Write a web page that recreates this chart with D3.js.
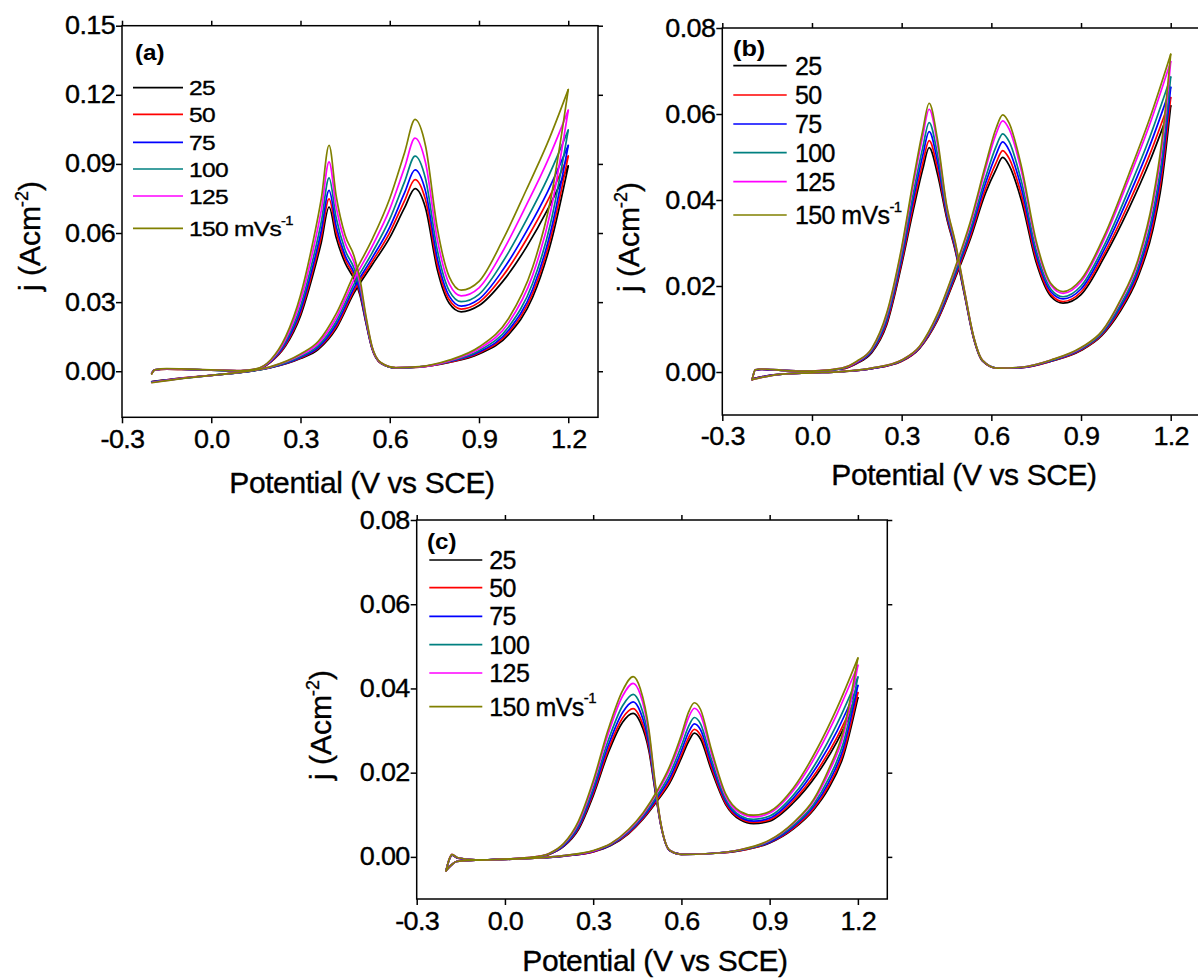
<!DOCTYPE html>
<html><head><meta charset="utf-8">
<script src="https://cdn.jsdelivr.net/npm/d3@7"></script>
<style>body{margin:0;background:#fff} text{font-family:"Liberation Sans",Arial,sans-serif}</style>
</head><body><svg id="chart" width="1198" height="978"></svg>
<script>
const rates = ["25", "50", "75", "100", "125", "150"];
const colors = ["#000000", "#FF0000", "#0000FF", "#008080", "#FF00FF", "#808000"];
const xTicks = [-0.3, 0, 0.3, 0.6, 0.9, 1.2];
const xTickLabels = ["-0.3", "0.0", "0.3", "0.6", "0.9", "1.2"];
const aYTicks = [0, 0.03, 0.06, 0.09, 0.12, 0.15];
const aYTickLabels = ["0.00", "0.03", "0.06", "0.09", "0.12", "0.15"];
const bcYTicks = [0, 0.02, 0.04, 0.06, 0.08];
const bcYTickLabels = ["0.00", "0.02", "0.04", "0.06", "0.08"];

// ---- panel (a) ----
const aFwdV = [-0.2,-0.1,0.0,0.1,0.2,0.3,0.36,0.42,0.48,0.54,0.6,0.65,0.685,0.72,0.76,0.8,0.84,0.9,0.98,1.06,1.13,1.2];
const aFwd = [
 [-0.0045,-0.003,-0.0018,-0.0005,0.0015,0.0055,0.0095,0.0185,0.034,0.046,0.058,0.071,0.0793,0.071,0.044,0.0295,0.0258,0.0285,0.039,0.054,0.070,0.0891],
 [-0.0046,-0.003,-0.0018,-0.0005,0.0016,0.0058,0.0100,0.0193,0.035,0.0474,0.0602,0.0741,0.0832,0.0745,0.0463,0.031,0.027,0.0299,0.0413,0.0573,0.0738,0.0934],
 [-0.0046,-0.0031,-0.0018,-0.0005,0.0016,0.0060,0.0104,0.0203,0.0362,0.0490,0.0626,0.0775,0.0874,0.0783,0.0489,0.0326,0.0283,0.0313,0.0439,0.0608,0.0778,0.098],
 [-0.0047,-0.0031,-0.0018,-0.0005,0.0017,0.0064,0.0111,0.0216,0.0378,0.0512,0.066,0.0823,0.0934,0.0837,0.0525,0.0349,0.0302,0.0334,0.0475,0.0658,0.0836,0.1047],
 [-0.0049,-0.0031,-0.0018,-0.0004,0.0019,0.007,0.0121,0.0232,0.0398,0.054,0.0704,0.0885,0.1012,0.0907,0.0571,0.0379,0.0327,0.0362,0.0521,0.0723,0.0912,0.1133],
 [-0.005,-0.0032,-0.0018,-0.0004,0.002,0.0075,0.013,0.025,0.042,0.057,0.075,0.095,0.1093,0.098,0.062,0.041,0.0352,0.039,0.057,0.079,0.099,0.1223]
];
const aRevV = [-0.2,-0.19,-0.15,-0.1,0.0,0.1,0.15,0.2,0.25,0.3,0.34,0.37,0.396,0.42,0.45,0.48,0.5,0.52,0.54,0.57,0.62,0.7,0.8,0.9,1.0,1.08,1.14,1.2];
const aRev = [
 [-0.0008,0.0006,0.0009,0.0008,0.0005,0.0002,0.0007,0.004,0.011,0.024,0.041,0.056,0.0713,0.058,0.047,0.040,0.033,0.021,0.010,0.0035,0.0015,0.0018,0.0038,0.0075,0.016,0.032,0.055,0.0891],
 [-0.0009,0.0006,0.0009,0.0008,0.0005,0.0002,0.0007,0.0041,0.0115,0.0252,0.0428,0.0585,0.0748,0.0603,0.0486,0.0413,0.0339,0.0214,0.0101,0.0035,0.0015,0.0018,0.0039,0.0079,0.0169,0.0337,0.0575,0.0934],
 [-0.0009,0.0006,0.0010,0.0009,0.0005,0.0002,0.0008,0.0043,0.0121,0.0264,0.0448,0.0611,0.0785,0.0629,0.0502,0.0427,0.0349,0.0218,0.0103,0.0036,0.0015,0.0019,0.0041,0.0083,0.0179,0.0355,0.0601,0.098],
 [-0.001,0.0006,0.001,0.0009,0.0005,0.0002,0.0008,0.0045,0.0129,0.0282,0.0476,0.0649,0.0839,0.0665,0.0526,0.0447,0.0363,0.0224,0.0105,0.0036,0.0015,0.0019,0.0043,0.0089,0.0193,0.0381,0.0639,0.1047],
 [-0.0011,0.0006,0.0010,0.0009,0.0006,0.0003,0.0009,0.0047,0.0139,0.0306,0.0512,0.0699,0.0909,0.0711,0.0558,0.0473,0.0381,0.0232,0.0107,0.0037,0.0016,0.0019,0.0045,0.0097,0.0211,0.0415,0.0689,0.1133],
 [-0.0012,0.0006,0.0011,0.001,0.0006,0.0003,0.001,0.005,0.015,0.033,0.055,0.075,0.0981,0.076,0.059,0.050,0.040,0.024,0.011,0.0038,0.0016,0.002,0.0048,0.0105,0.023,0.045,0.074,0.1223]
];

// ---- panel (b) ----
const bFwdV = [-0.2,-0.15,-0.1,0.0,0.1,0.2,0.3,0.36,0.42,0.48,0.53,0.58,0.615,0.638,0.66,0.7,0.75,0.8,0.84,0.9,0.98,1.06,1.13,1.2];
const bFwd = [
 [-0.0016,-0.0009,-0.0005,-0.0002,0.0001,0.0008,0.0025,0.0055,0.012,0.022,0.031,0.0415,0.047,0.0499,0.048,0.040,0.0255,0.0175,0.016,0.018,0.027,0.038,0.049,0.0619],
 [-0.0016,-0.0009,-0.0005,-0.0002,0.0001,0.0008,0.0025,0.0056,0.0122,0.0224,0.0316,0.0425,0.0485,0.0515,0.0496,0.0413,0.0263,0.018,0.0164,0.0186,0.0278,0.0393,0.0506,0.0638],
 [-0.0017,-0.0009,-0.0005,-0.0002,0.0001,0.0008,0.0026,0.0057,0.0125,0.0229,0.0324,0.0438,0.0504,0.0535,0.0515,0.0429,0.0273,0.0186,0.017,0.0193,0.0288,0.0409,0.0526,0.0662],
 [-0.0017,-0.0010,-0.0005,-0.0002,0.0001,0.0009,0.0027,0.0058,0.0128,0.0234,0.0332,0.0451,0.0523,0.0554,0.0535,0.0445,0.0283,0.0192,0.0175,0.0200,0.0298,0.0425,0.0546,0.0686],
 [-0.0018,-0.001,-0.0005,-0.0002,0.0001,0.0009,0.0028,0.0059,0.0133,0.0242,0.0344,0.0471,0.0552,0.0584,0.0564,0.0469,0.0298,0.0201,0.0183,0.021,0.0313,0.0449,0.0576,0.0722],
 [-0.0018,-0.001,-0.0005,-0.0002,0.0001,0.0009,0.0028,0.006,0.0135,0.0245,0.035,0.048,0.0565,0.0598,0.0578,0.048,0.0305,0.0205,0.0187,0.0215,0.032,0.046,0.059,0.0739]
];
const bRevV = [-0.2,-0.19,-0.17,-0.1,0.0,0.1,0.15,0.2,0.25,0.3,0.34,0.37,0.392,0.42,0.45,0.48,0.51,0.54,0.57,0.62,0.7,0.8,0.9,0.97,1.03,1.09,1.14,1.17,1.2];
const bRev = [
 [-0.0018,0.0004,0.0006,0.0004,0.0002,0.0007,0.002,0.0045,0.011,0.025,0.038,0.047,0.0522,0.046,0.036,0.028,0.018,0.008,0.0026,0.0009,0.001,0.0025,0.0050,0.0085,0.0140,0.0220,0.0330,0.0440,0.0619],
 [-0.0018,0.0004,0.0006,0.0004,0.0002,0.0007,0.0021,0.0047,0.0114,0.0256,0.0391,0.0484,0.0538,0.0473,0.0365,0.0283,0.0182,0.0081,0.0026,0.0009,0.001,0.0025,0.0051,0.0087,0.0144,0.0226,0.0341,0.0457,0.0638],
 [-0.0018,0.0004,0.0006,0.0004,0.0002,0.0008,0.0022,0.0049,0.0120,0.0264,0.0405,0.0502,0.0559,0.0489,0.0371,0.0287,0.0184,0.0082,0.0027,0.0009,0.001,0.0026,0.0053,0.0089,0.0149,0.0234,0.0355,0.0475,0.0662],
 [-0.0018,0.0005,0.0007,0.0004,0.0002,0.0008,0.0023,0.0051,0.0125,0.0272,0.0419,0.052,0.058,0.0505,0.0377,0.0291,0.0186,0.0083,0.0027,0.0009,0.0011,0.0027,0.0054,0.0091,0.0154,0.0242,0.0369,0.0493,0.0686],
 [-0.0018,0.0005,0.0007,0.0004,0.0002,0.0009,0.0024,0.0054,0.0133,0.0284,0.044,0.0547,0.0611,0.0529,0.0386,0.0297,0.0189,0.0084,0.0028,0.0009,0.0011,0.0028,0.0056,0.0094,0.0162,0.0254,0.0390,0.0520,0.0722],
 [-0.0018,0.0005,0.0007,0.0004,0.0002,0.0009,0.0025,0.0055,0.0137,0.029,0.045,0.056,0.0625,0.054,0.039,0.030,0.019,0.0085,0.0028,0.0009,0.0011,0.0028,0.0057,0.0095,0.0165,0.0260,0.0400,0.0535,0.0739]
];

// ---- panel (c) ----
const cFwdV = [-0.2,-0.18,-0.165,-0.1,0.0,0.1,0.2,0.3,0.36,0.42,0.47,0.52,0.56,0.6,0.625,0.644,0.665,0.7,0.75,0.8,0.845,0.9,0.98,1.06,1.13,1.2];
const cFwd = [
 [-0.0032,-0.0018,-0.0011,-0.0008,-0.0006,-0.0003,0.0002,0.0012,0.0027,0.0055,0.009,0.0135,0.0175,0.0235,0.0275,0.0294,0.028,0.021,0.0125,0.0088,0.0079,0.0085,0.0128,0.0195,0.0275,0.0378],
 [-0.0032,-0.0018,-0.0011,-0.0008,-0.0006,-0.0003,0.0002,0.0012,0.0028,0.0056,0.0092,0.0138,0.018,0.0242,0.0284,0.0303,0.0289,0.0217,0.0128,0.0091,0.0082,0.0088,0.0133,0.0203,0.0285,0.039],
 [-0.0032,-0.0018,-0.0011,-0.0008,-0.0006,-0.0003,0.0002,0.0013,0.0029,0.0058,0.0095,0.0143,0.0187,0.0252,0.0297,0.0316,0.0302,0.0226,0.0133,0.0094,0.0085,0.0092,0.0139,0.0214,0.0300,0.0407],
 [-0.0033,-0.0018,-0.0011,-0.0008,-0.0006,-0.0003,0.0003,0.0014,0.003,0.006,0.0098,0.0148,0.0196,0.0264,0.0311,0.0331,0.0316,0.0236,0.0138,0.0098,0.0089,0.0097,0.0146,0.0226,0.0317,0.0427],
 [-0.0033,-0.0018,-0.0011,-0.0008,-0.0006,-0.0003,0.0003,0.0014,0.0031,0.0063,0.0102,0.0156,0.0208,0.0280,0.0332,0.0353,0.0337,0.0251,0.0145,0.0104,0.0095,0.0104,0.0157,0.0244,0.0341,0.0455],
 [-0.0033,-0.0018,-0.0011,-0.0008,-0.0006,-0.0003,0.0003,0.0015,0.0032,0.0065,0.0105,0.016,0.0215,0.029,0.0345,0.0366,0.035,0.026,0.015,0.0108,0.0099,0.0108,0.0163,0.0255,0.0355,0.0472]
];
const cRevV = [-0.2,-0.19,-0.18,-0.16,-0.1,0.0,0.1,0.15,0.2,0.25,0.3,0.35,0.4,0.436,0.46,0.49,0.51,0.53,0.56,0.6,0.7,0.8,0.9,0.98,1.05,1.1,1.15,1.2];
const cRev = [
 [-0.0032,-0.0008,0.0004,-0.0003,-0.0007,-0.0005,-0.0001,0.0006,0.0025,0.0065,0.0145,0.0245,0.032,0.0341,0.032,0.025,0.016,0.0075,0.0015,0.0006,0.0008,0.0015,0.0033,0.0066,0.0112,0.0162,0.0238,0.0378],
 [-0.0032,-0.0008,0.0004,-0.0003,-0.0007,-0.0005,-0.0001,0.0006,0.0026,0.0068,0.015,0.0252,0.033,0.0352,0.033,0.0257,0.0163,0.0076,0.0015,0.0006,0.0008,0.0015,0.0034,0.0068,0.0115,0.0168,0.0246,0.039],
 [-0.0032,-0.0007,0.0005,-0.0003,-0.0007,-0.0005,-0.0001,0.0007,0.0027,0.0071,0.0156,0.0262,0.0343,0.0368,0.0345,0.0266,0.0166,0.0077,0.0015,0.0006,0.0008,0.0016,0.0035,0.0071,0.0120,0.0176,0.0257,0.0407],
 [-0.0033,-0.0007,0.0005,-0.0002,-0.0007,-0.0005,-0.0001,0.0007,0.0029,0.0075,0.0163,0.0274,0.0359,0.0386,0.0362,0.0276,0.017,0.0078,0.0016,0.0006,0.0008,0.0016,0.0037,0.0074,0.0125,0.0185,0.0269,0.0427],
 [-0.0033,-0.0006,0.0006,-0.0002,-0.0007,-0.0005,0.0000,0.0008,0.0031,0.0081,0.0174,0.029,0.0382,0.0412,0.0386,0.0291,0.0176,0.0079,0.0016,0.0006,0.0008,0.0017,0.0039,0.0079,0.0133,0.0199,0.0287,0.0455],
 [-0.0033,-0.0006,0.0006,-0.0002,-0.0007,-0.0005,0.0000,0.0008,0.0032,0.0085,0.018,0.03,0.0395,0.0428,0.040,0.030,0.018,0.008,0.0016,0.0006,0.0008,0.0017,0.0040,0.0081,0.0137,0.0207,0.0298,0.0472]
];

const panels = [
  { tag: "(a)", fwdV: aFwdV, fwd: aFwd, revV: aRevV, rev: aRev, yDomain: [-0.02, 0.15], yTicks: aYTicks, yLabels: aYTickLabels,
    l: 122, r: 598, t: 25.7, b: 417.3, xPad: 7, xTitleX: 362, xTitleY: 493, yTitleX: 40, yTitleY: 236,
    tagX: 135, tagY: 60, tagSx: 1.1, legX1: 133, legX2: 183, legTX: 189, legFs: 21, legSx: 1.17,
    legY: [87.7, 114.3, 142.3, 169, 196, 228.3] },
  { tag: "(b)", fwdV: bFwdV, fwd: bFwd, revV: bRevV, rev: bRev, yDomain: [-0.01, 0.08], yTicks: bcYTicks, yLabels: bcYTickLabels,
    l: 722.3, r: 1200.6, t: 28, b: 415, xPad: 6, xTitleX: 964, xTitleY: 485, yTitleX: 639, yTitleY: 237,
    tagX: 733, tagY: 56, tagSx: 1.15, legX1: 733.3, legX2: 786.7, legTX: 795, legFs: 25, legSx: 1.0,
    legY: [65.7, 95, 124, 152.7, 181.7, 215] },
  { tag: "(c)", fwdV: cFwdV, fwd: cFwd, revV: cRevV, rev: cRev, yDomain: [-0.01, 0.08], yTicks: bcYTicks, yLabels: bcYTickLabels,
    l: 416.7, r: 887.3, t: 520, b: 899, xPad: 7, xTitleX: 655, xTitleY: 971, yTitleX: 331, yTitleY: 725,
    tagX: 427, tagY: 549, tagSx: 1.1, legX1: 429.3, legX2: 482.3, legTX: 489.3, legFs: 25, legSx: 1.0,
    legY: [560, 587.7, 616.3, 644.7, 673, 706.7] }
];

const svg = d3.select("#chart");
svg.append("rect").attr("width", 1198).attr("height", 978).attr("fill", "#fff");
const FONT = '"Liberation Sans", Arial, sans-serif';
const TEXT_STROKE = 0.35;

function heavy(sel) {
  return sel.attr("fill", "#000").attr("stroke", "#000").attr("stroke-width", TEXT_STROKE);
}

function styleAxis(ax, sx) {
  ax.attr("font-family", FONT).attr("font-size", 25);
  ax.select(".domain").remove();
  ax.selectAll(".tick line").attr("stroke", "#000").attr("stroke-width", 1.5);
  heavy(ax.selectAll(".tick text")).attr("letter-spacing", "-0.6px").attr("transform", `scale(${sx},1)`);
}

// horizontally stretched text anchored at (x, y)
function stretched(parent, x, y, sx) {
  return parent.append("g").attr("transform", `translate(${x},${y}) scale(${sx},1)`).append("text");
}

function drawPanel(p) {
  const x = d3.scaleLinear().domain([-0.3, 1.3]).range([p.l, p.r]);
  const y = d3.scaleLinear().domain(p.yDomain).range([p.b, p.t]);
  const g = svg.append("g");
  const line = d3.line().x(d => x(d[0])).y(d => y(d[1])).curve(d3.curveMonotoneX);

  rates.forEach((r, i) => {
    [[p.fwdV, p.fwd[i]], [p.revV, p.rev[i]]].forEach(([vs, js]) => {
      g.append("path").attr("d", line(vs.map((v, k) => [v, js[k]])))
        .attr("fill", "none").attr("stroke", colors[i]).attr("stroke-width", 1.7)
        .attr("stroke-linejoin", "round").attr("stroke-linecap", "round");
    });
  });

  g.append("rect").attr("x", p.l).attr("y", p.t).attr("width", p.r - p.l).attr("height", p.b - p.t)
    .attr("fill", "none").attr("stroke", "#000").attr("stroke-width", 1.5);

  const xb = g.append("g").attr("transform", `translate(0,${p.b})`)
    .call(d3.axisBottom(x).tickValues(xTicks).tickFormat((d, i) => xTickLabels[i]).tickSize(6).tickSizeOuter(0).tickPadding(p.xPad));
  styleAxis(xb, 1.08);
  const xt = g.append("g").attr("transform", `translate(0,${p.t})`)
    .call(d3.axisTop(x).tickValues(xTicks).tickFormat("").tickSize(5).tickSizeOuter(0));
  styleAxis(xt, 1);
  const yl = g.append("g").attr("transform", `translate(${p.l},0)`)
    .call(d3.axisLeft(y).tickValues(p.yTicks).tickFormat((d, i) => p.yLabels[i]).tickSize(6).tickSizeOuter(0).tickPadding(0.5));
  styleAxis(yl, 1.08);
  const yr = g.append("g").attr("transform", `translate(${p.r},0)`)
    .call(d3.axisRight(y).tickValues(p.yTicks).tickFormat("").tickSize(5).tickSizeOuter(0));
  styleAxis(yr, 1);

  // axis titles
  heavy(g.append("text").attr("x", p.xTitleX).attr("y", p.xTitleY).attr("text-anchor", "middle")
    .attr("font-size", 30).attr("letter-spacing", "-0.4px")).text("Potential (V vs SCE)");
  const yt = heavy(g.append("text").attr("transform", `translate(${p.yTitleX},${p.yTitleY}) rotate(-90)`)
    .attr("text-anchor", "middle").attr("font-size", 30));
  yt.append("tspan").text("j (Acm");
  yt.append("tspan").attr("font-size", 18).attr("dy", -12).attr("dx", -1).text("-2");
  yt.append("tspan").attr("dy", 12).text(")");

  // panel tag
  stretched(g, p.tagX, p.tagY, p.tagSx).attr("font-size", 22).attr("font-weight", "bold")
    .attr("fill", "#000").text(p.tag);

  // legend
  rates.forEach((r, i) => {
    const ly = p.legY[i];
    g.append("line").attr("x1", p.legX1).attr("x2", p.legX2).attr("y1", ly).attr("y2", ly)
      .attr("stroke", colors[i]).attr("stroke-width", 1.7);
    const t = heavy(stretched(g, p.legTX, ly + p.legFs * 0.36, p.legSx)
      .attr("font-size", p.legFs).attr("letter-spacing", "-0.6px"));
    if (i === rates.length - 1) {
      t.append("tspan").text(r + " mVs");
      t.append("tspan").attr("font-size", p.legFs * 0.6).attr("dy", -p.legFs * 0.5).text("-1");
    } else {
      t.text(r);
    }
  });
}

panels.forEach(drawPanel);
</script></body></html>
